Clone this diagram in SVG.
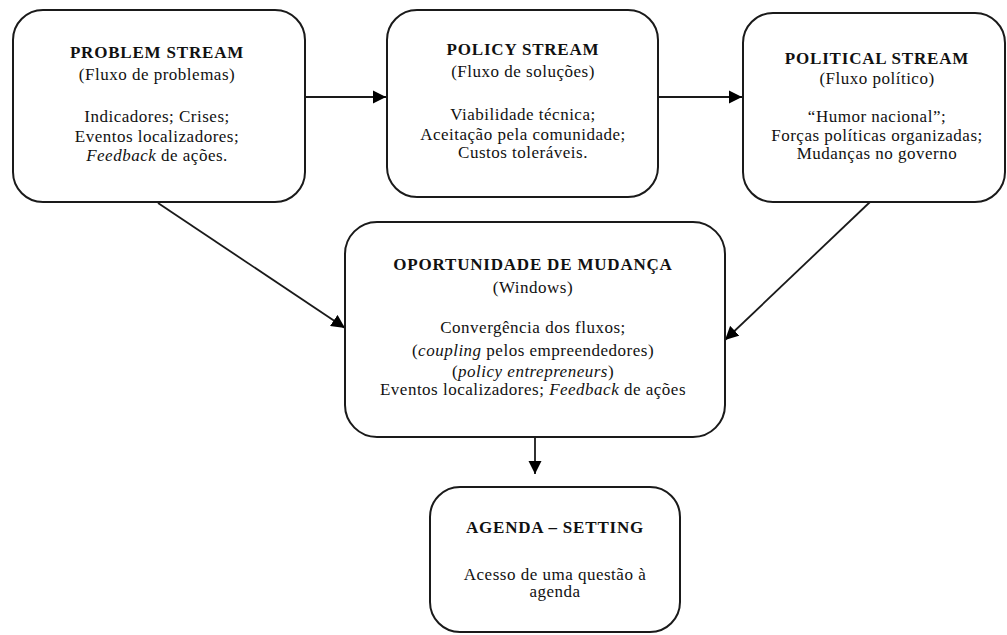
<svg xmlns="http://www.w3.org/2000/svg" width="1007" height="635" viewBox="0 0 1007 635">
  <style>
    .box { fill: #ffffff; stroke: #1a1a1a; stroke-width: 2; }
    .t { font-family: "Liberation Serif", "Times New Roman", serif; font-size: 17px; letter-spacing: 0.5px; fill: #111; text-anchor: middle; }
    .b { font-weight: bold; letter-spacing: 0.8px; }
    .i { font-style: italic; }
    .edge { stroke: #1a1a1a; stroke-width: 1.8; fill: none; marker-end: url(#arrow); }
  </style>
  <defs>
    <marker id="arrow" viewBox="0 0 10 10" refX="10" refY="5" markerWidth="7.5" markerHeight="7.5" markerUnits="strokeWidth" orient="auto">
      <path d="M0,0 L10,5 L0,10 z" fill="#000"/>
    </marker>
  </defs>
  <rect width="1007" height="635" fill="#ffffff"/>

  <g id="connectors">
    <line class="edge" x1="305" y1="97" x2="386" y2="97"/>
    <line class="edge" x1="658" y1="97" x2="742" y2="97"/>
    <line class="edge" x1="158" y1="203" x2="345" y2="328"/>
    <line class="edge" x1="870" y1="202" x2="725" y2="340"/>
    <line class="edge" x1="535" y1="437" x2="535" y2="474"/>
  </g>

  <g id="problem-stream">
    <rect class="box" x="13" y="10" width="292" height="192" rx="30"/>
    <text class="t b" x="157" y="58">PROBLEM STREAM</text>
    <text class="t" x="157" y="80">(Fluxo de problemas)</text>
    <text class="t" x="157" y="122">Indicadores; Crises;</text>
    <text class="t" x="157" y="142">Eventos localizadores;</text>
    <text class="t" x="157" y="161"><tspan class="i">Feedback</tspan> de ações.</text>
  </g>

  <g id="policy-stream">
    <rect class="box" x="387" y="10" width="271" height="187" rx="30"/>
    <text class="t b" x="523" y="55">POLICY STREAM</text>
    <text class="t" x="523" y="77">(Fluxo de soluções)</text>
    <text class="t" x="523" y="120">Viabilidade técnica;</text>
    <text class="t" x="523" y="140">Aceitação pela comunidade;</text>
    <text class="t" x="523" y="158">Custos toleráveis.</text>
  </g>

  <g id="political-stream">
    <rect class="box" x="743" y="13" width="262" height="189" rx="30"/>
    <text class="t b" x="877" y="64">POLITICAL STREAM</text>
    <text class="t" x="877" y="84">(Fluxo político)</text>
    <text class="t" x="877" y="122">“Humor nacional”;</text>
    <text class="t" x="877" y="141">Forças políticas organizadas;</text>
    <text class="t" x="877" y="159">Mudanças no governo</text>
  </g>

  <g id="window">
    <rect class="box" x="345" y="222" width="380" height="215" rx="32"/>
    <text class="t b" x="533" y="270">OPORTUNIDADE DE MUDANÇA</text>
    <text class="t" x="533" y="293">(Windows)</text>
    <text class="t" x="533" y="333">Convergência dos fluxos;</text>
    <text class="t" x="533" y="356">(<tspan class="i">coupling</tspan> pelos empreendedores)</text>
    <text class="t" x="533" y="377">(<tspan class="i">policy entrepreneurs</tspan>)</text>
    <text class="t" x="533" y="395">Eventos localizadores; <tspan class="i">Feedback</tspan> de ações</text>
  </g>

  <g id="agenda-setting">
    <rect class="box" x="430" y="487" width="250" height="145" rx="30"/>
    <text class="t b" x="555" y="533">AGENDA – SETTING</text>
    <text class="t" x="555" y="580">Acesso de uma questão à</text>
    <text class="t" x="555" y="597">agenda</text>
  </g>
</svg>
